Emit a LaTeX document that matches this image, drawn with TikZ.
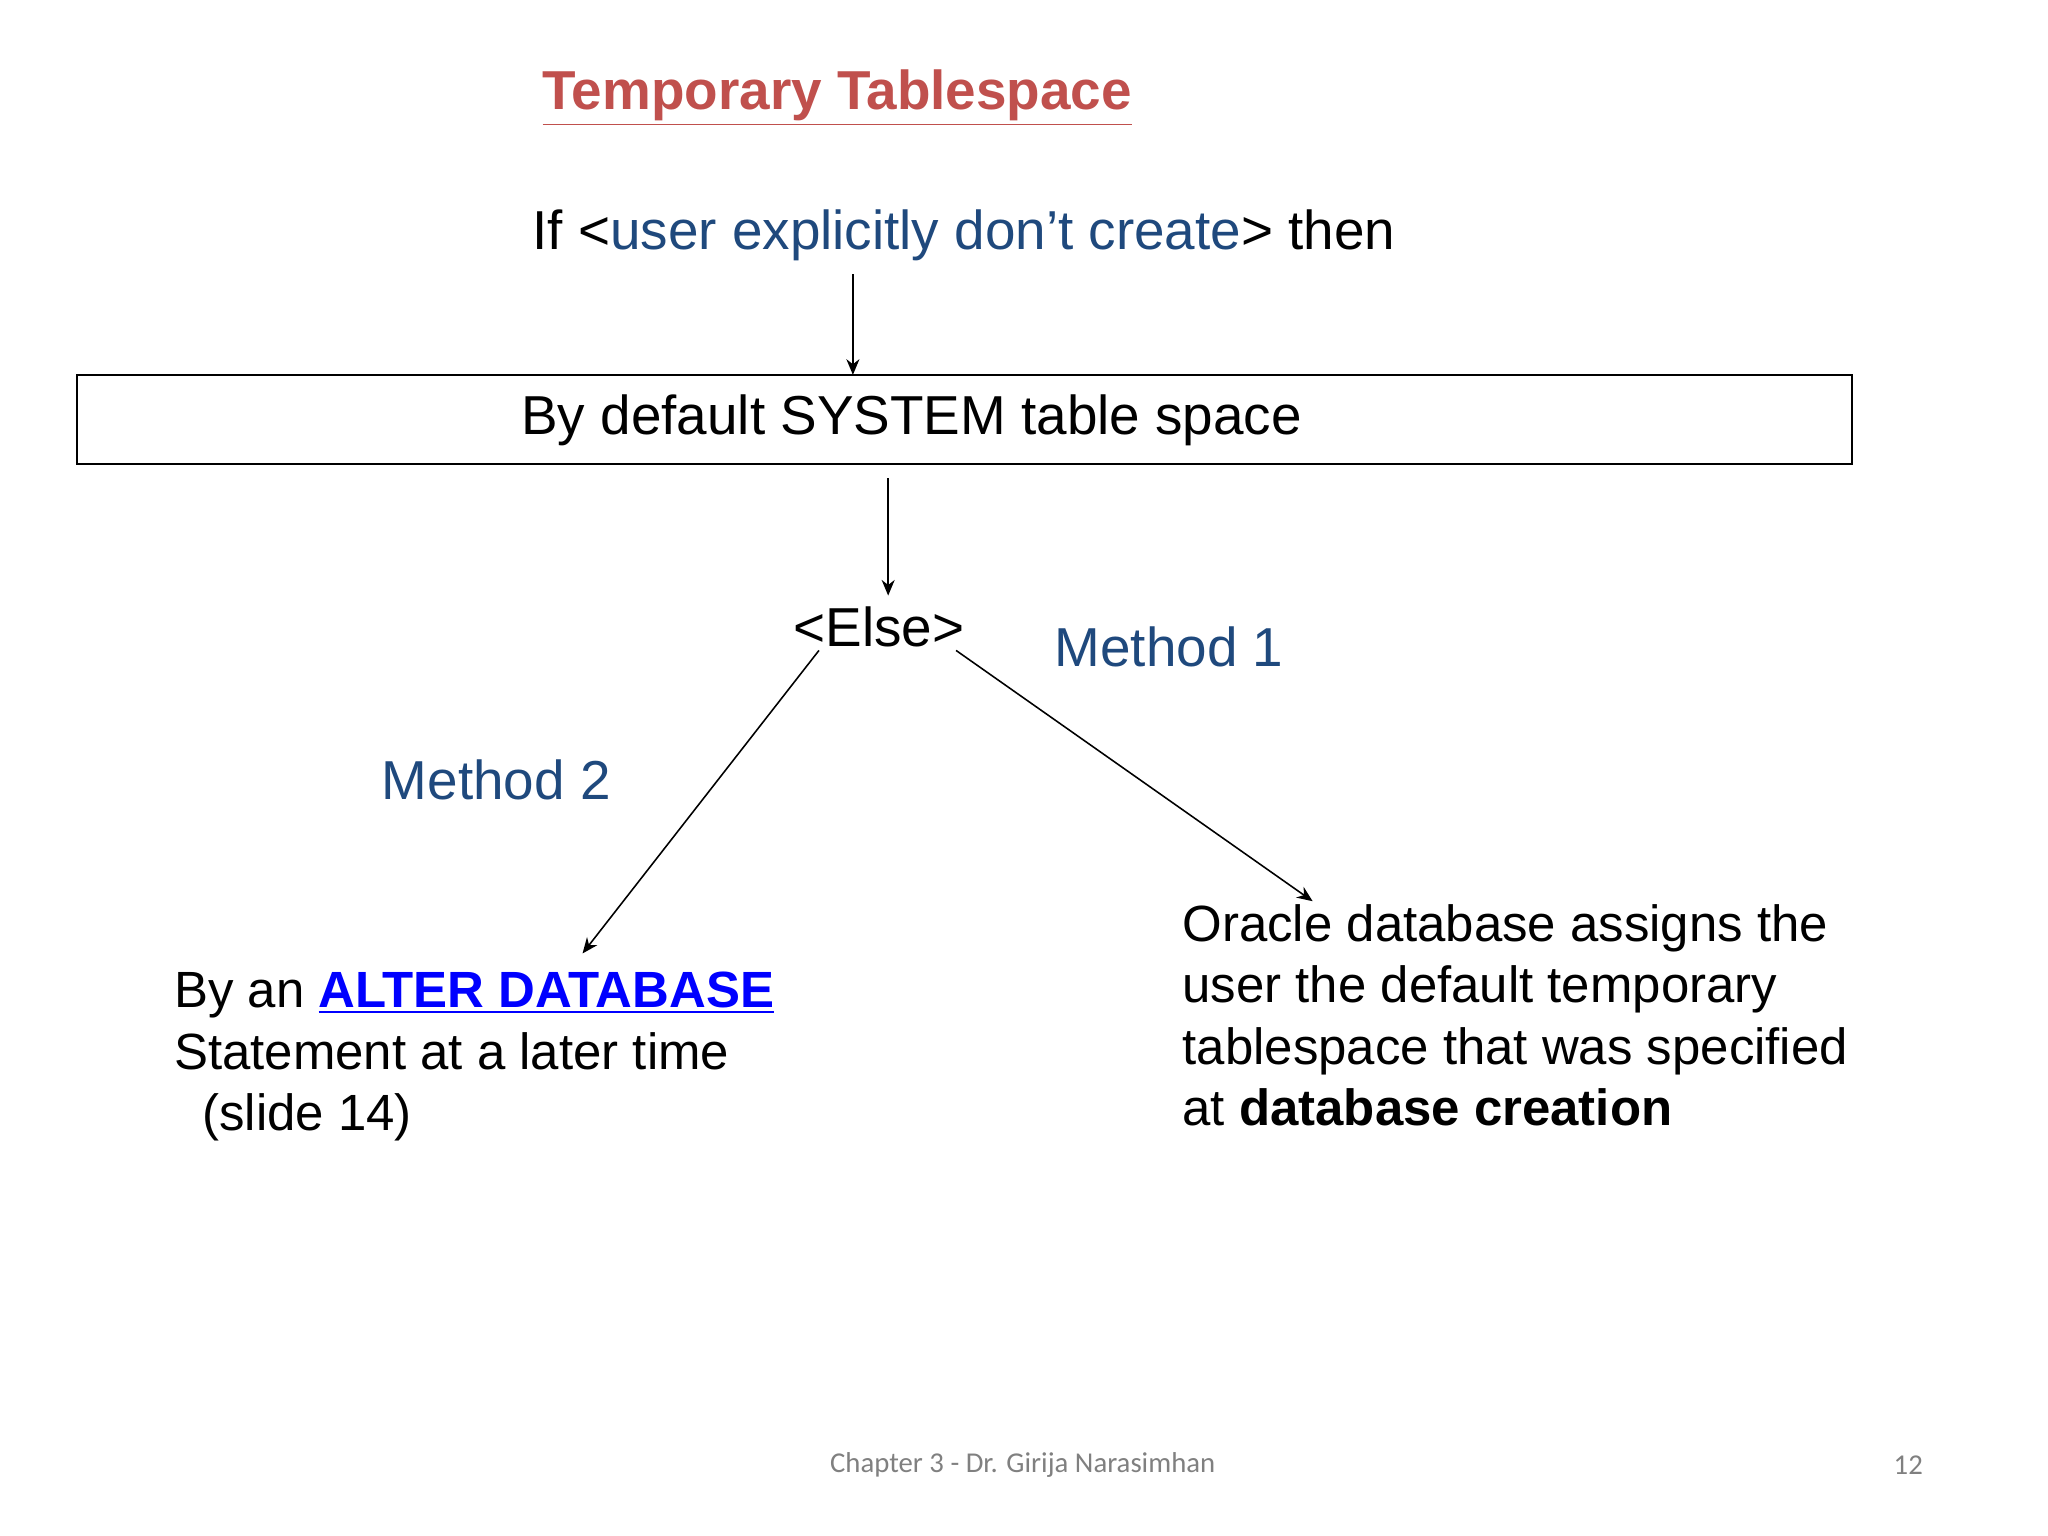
\documentclass[tikz,border=0pt]{standalone}
\usepackage{fontspec}
\setmainfont{Liberation Sans}
\newfontfamily\footfont{Carlito}
\usetikzlibrary{arrows.meta}
\definecolor{ttl}{HTML}{C0504D}
\definecolor{dblue}{HTML}{1F497D}
\definecolor{lnk}{HTML}{0000FF}
\tikzset{
  big/.style={font=\fontsize{21}{25}\selectfont, inner sep=0pt},
  body/.style={font=\fontsize{19.5}{23.5}\selectfont, inner sep=0pt, align=left, anchor=north west},
  arr/.style={-{Stealth[length=6pt,width=5pt]}, line width=0.6pt},
  foot/.style={font=\footfont\fontsize{11}{13}\selectfont, text=gray, inner sep=0pt}
}
\begin{document}
\begin{tikzpicture}[x=0.5pt,y=-0.5pt]
\useasboundingbox (0,0) rectangle (1568,1176);
\fill[white] (0,0) rectangle (1568,1176);
\node[big,text=ttl,font=\bfseries\fontsize{21}{25}\selectfont] (title) at (641,75) {\underline{Temporary Tablespace}};
\node[big] (if) at (738,180) {If <\textcolor{dblue}{user explicitly don’t create}> then};
\node[draw,line width=0.7pt,minimum width=679.5pt,minimum height=34pt,inner sep=0pt] (box) at (738.5,321) {};
\node[big] (boxt) at (698,322) {By default SYSTEM table space};
\node[big] (else) at (673,480) {<Else>};
\node[big,text=dblue] (m1) at (895,495) {Method 1};
\node[big,text=dblue] (m2) at (380,597) {Method 2};
\coordinate (a1) at (653,210); \coordinate (a1e) at (653,287);
\coordinate (a2) at (680,366); \coordinate (a2e) at (680,456);
\coordinate (l1) at (627,498); \coordinate (l1e) at (446,730);
\coordinate (r1) at (732,498); \coordinate (r1e) at (1005,690);
\draw[arr] (a1) -- (a1e);
\draw[arr] (a2) -- (a2e);
\draw[arr] (l1) -- (l1e);
\draw[arr] (r1) -- (r1e);
\node[body] (left) at (133,744) {By an \textcolor{lnk}{\bfseries\underline{ALTER DATABASE}}\\Statement at a later time\\\ \ (slide 14)};
\node[body] (right) at (905,692) {Oracle database assigns the\\user the default temporary\\tablespace that was specified\\at \textbf{database creation}};
\node[foot] (ft) at (783,1122) {Chapter 3 - Dr. Girija Narasimhan};
\node[foot] (pg) at (1461,1122) {12};
\end{tikzpicture}
\end{document}
